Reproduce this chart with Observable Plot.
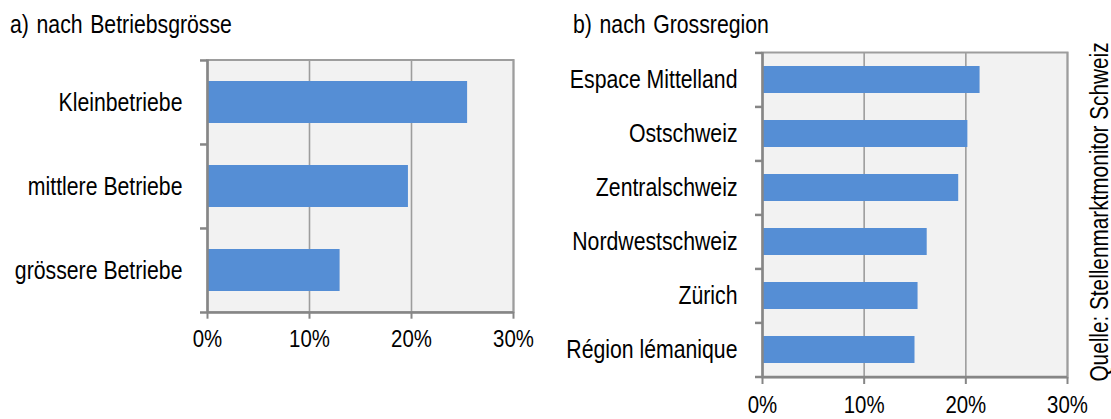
<!DOCTYPE html>
<html>
<head>
<meta charset="utf-8">
<script src="https://cdn.jsdelivr.net/npm/d3@7"></script>
<script src="https://cdn.jsdelivr.net/npm/@observablehq/plot@0.6"></script>
<style>
  html, body { margin: 0; padding: 0; background: #fff; }
  #wrap { position: relative; width: 1111px; height: 419px; overflow: hidden;
          font-family: "Liberation Sans", Arial, sans-serif; color: #000; }
  .panel { position: absolute; top: 0; }
  .title { height: 45px; box-sizing: border-box; padding-top: 12px; font-size: 25px; line-height: 25px; white-space: nowrap; word-spacing: 2px; }
  .title span { display: inline-block; transform: scaleX(0.85); transform-origin: 0 50%; }
  .panel svg { display: block; }
  #source { position: absolute; left: 1099px; top: 212px; font-size: 25px; line-height: 25px; white-space: nowrap;
            transform: translate(-50%, -50%) rotate(-90deg) scaleX(0.83); }
</style>
</head>
<body>
<div id="wrap">
  <div class="panel" id="left" style="left:0px;width:540px;">
    <div class="title" style="padding-left:10px;"><span>a) nach Betriebsgrösse</span></div>
  </div>
  <div class="panel" id="right" style="left:555px;width:540px;">
    <div class="title" style="padding-left:18px;"><span>b) nach Grossregion</span></div>
  </div>
  <div id="source">Quelle: Stellenmarktmonitor Schweiz</div>
</div>
<script>
const FONT = '"Liberation Sans", Arial, sans-serif';
const NARROW = 0.85;

const sizeCategories = ["Kleinbetriebe", "mittlere Betriebe", "grössere Betriebe"];
const sizeValues = [25.5, 19.7, 13.0];

const regionCategories = ["Espace Mittelland", "Ostschweiz", "Zentralschweiz", "Nordwestschweiz", "Zürich", "Région lémanique"];
const regionValues = [21.4, 20.2, 19.3, 16.2, 15.3, 15.0];

const xTickValues = [0, 10, 20, 30];
const xTickLabels = ["0%", "10%", "20%", "30%"];

const BAR = "#558ed5", BG = "#f2f2f2", GRID = "#9d9d9d", AXIS = "#868686";

function narrowTexts(svg) {
  svg.querySelectorAll("text").forEach((t) => {
    let tr = t.getAttribute("transform");
    if (!tr) {
      const x = +(t.getAttribute("x") || 0), y = +(t.getAttribute("y") || 0);
      t.removeAttribute("x"); t.removeAttribute("y");
      tr = `translate(${x},${y})`;
    }
    t.setAttribute("transform", `${tr} scale(${NARROW},1)`);
  });
  return svg;
}

function panel(cats, vals, m) {
  const data = cats.map((c, i) => ({cat: c, value: vals[i]}));
  const step = (m.height - m.mt - m.mb) / cats.length;
  return narrowTexts(Plot.plot({
    width: m.width, height: m.height,
    marginTop: m.mt, marginBottom: m.mb, marginLeft: m.ml, marginRight: m.mr,
    style: {fontFamily: FONT, fontSize: "25px", color: "#000", background: "transparent", overflow: "visible"},
    x: {domain: [0, 30]},
    y: {domain: cats, paddingInner: 0.5, paddingOuter: 0.25},
    marks: [
      Plot.frame({fill: BG, stroke: GRID, strokeWidth: 2}),
      Plot.ruleX(xTickValues.slice(1), {stroke: GRID, strokeWidth: 1.6}),
      Plot.barX(data, {x: "value", y: "cat", fill: BAR}),
      Plot.ruleX([0], {stroke: AXIS, strokeWidth: 2.5}),
      Plot.ruleY(cats, {x1: 0, x2: 0, insetLeft: -7, dy: -step / 2, stroke: AXIS, strokeWidth: 2.5}),
      Plot.ruleY([cats[cats.length - 1]], {x1: 0, x2: 30, insetLeft: -7, dy: step / 2, stroke: AXIS, strokeWidth: 2.5}),
      Plot.axisX({ticks: xTickValues, tickFormat: (d) => xTickLabels[xTickValues.indexOf(d)],
                  tickSize: 7, tickPadding: 11, label: null, stroke: AXIS, strokeWidth: 2, fontSize: 24}),
      Plot.axisY({tickSize: 0, tickPadding: 25, label: null})
    ]
  }));
}

document.getElementById("left").appendChild(
  panel(sizeCategories, sizeValues, {width: 540, height: 374, mt: 14.5, mb: 107.3, ml: 207, mr: 27})
);
document.getElementById("right").appendChild(
  panel(regionCategories, regionValues, {width: 540, height: 374, mt: 7, mb: 42, ml: 207, mr: 28})
);
</script>
</body>
</html>
